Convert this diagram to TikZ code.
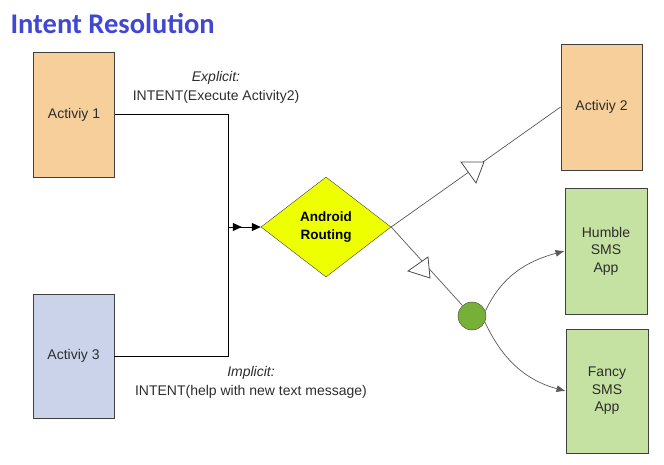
\documentclass[tikz,border=0pt]{standalone}
\usepackage{fontspec}
\setmainfont{Liberation Sans}
\newfontfamily\titlefont{Carlito}
\usetikzlibrary{shapes.geometric,arrows.meta,positioning}
\definecolor{peach}{RGB}{246,207,155}
\definecolor{lavender}{RGB}{203,211,234}
\definecolor{smsgreen}{RGB}{197,226,162}
\definecolor{hubgreen}{RGB}{118,176,54}
\definecolor{routeyellow}{RGB}{238,255,0}
\definecolor{titleblue}{RGB}{64,72,210}
\definecolor{boxline}{RGB}{64,64,64}
\definecolor{textgray}{RGB}{45,45,45}

\begin{document}
\begin{tikzpicture}[x=1pt, y=-1pt,
		activity/.style={rectangle, draw=boxline, line width=0.9pt, minimum width=81pt, minimum height=125pt, inner sep=0pt, align=center, text=textgray, font=\fontsize{14}{17.5}\selectfont},
		routing/.style={diamond, draw=boxline, fill=routeyellow, minimum width=130pt, minimum height=100pt, inner sep=0pt, align=center, font=\fontsize{13.5}{18}\selectfont\bfseries},
		label/.style={align=center, text=textgray, font=\fontsize{14}{19}\selectfont},
		thinline/.style={draw=gray!70!black, line width=0.7pt},
		opentip/.style={draw=gray!60!black, fill=white, line width=0.8pt, line join=miter}]
					\useasboundingbox (0,0) rectangle (664,464);
					\node[anchor=base west, text=titleblue, font=\titlefont\fontsize{28.5}{30}\selectfont\bfseries] (title) at (7,33) {Intent Resolution};

					\node[activity, fill=peach] (act1) at (74,114.5) {Activiy 1};
					\node[activity, fill=lavender, minimum height=124pt] (act3) at (73.5,356) {Activiy 3};
					\node[activity, fill=peach, minimum height=126pt] (act2) at (601.5,107) {Activiy 2};
					\node[activity, fill=smsgreen, minimum width=82pt, minimum height=126pt] (humble) at (606,251) {Humble\\SMS\\App};
					\node[activity, fill=smsgreen, minimum width=82pt, minimum height=124pt] (fancy) at (607,391) {Fancy\\SMS\\App};
					\node[routing] (route) at (326,227) {Android\\Routing};
					\node[circle, draw=boxline, fill=hubgreen, minimum size=28pt, inner sep=0pt] (hub) at (472,316) {};
					\coordinate (join) at (228,227);

					\node[label] (explicit) at (216,87.5) {\textit{Explicit:}\\INTENT(Execute Activity2)};
					\node[label] (implicit) at (251,382.5) {\textit{Implicit:}\\INTENT(help with new text message)};

					% intents into the router
					\draw[line width=0.8pt] (act1.east) -| (join);
					\draw[line width=0.8pt] (act3.east) -| (join);
					\draw[line width=0.8pt, -{Triangle[length=9pt,width=8pt,sep=10pt]Triangle[length=9pt,width=8pt]}] (join) -- (route.west);

					% routing results
					\draw[thinline] (route.east) -- (act2.west);
					\draw[thinline] (route.east) -- (hub);
					\draw[opentip] (461,162) -- (484,162) -- (476,183) -- cycle;
					\draw[opentip] (408,271) -- (428,257) -- (430,278) -- cycle;

					\draw[thinline, -{Latex[length=9pt,width=7pt]}] (hub.20) to[out=65, in=195] (humble.west);
					\draw[thinline, -{Latex[length=9pt,width=7pt]}] (hub.-25) to[out=-65, in=165] (fancy.west);
				\end{tikzpicture}
\end{document}
